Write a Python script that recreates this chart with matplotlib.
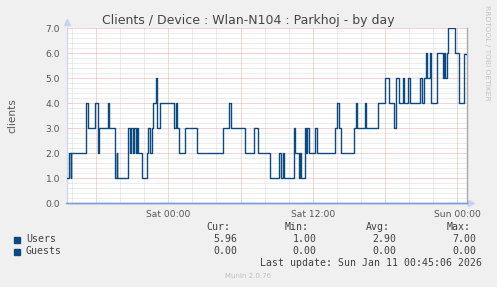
import numpy as np
import matplotlib
matplotlib.use("Agg")
import matplotlib.pyplot as plt
from matplotlib.patches import Rectangle
from matplotlib.ticker import MultipleLocator, FixedLocator

# hours relative to Sat 00:00, value holds from this time until the next one
change_hours = [-8.44, -8.25, -8.11, -8.06, -6.81, -6.67, -6.09, -5.88, -5.73, -5.01,
                -4.90, -4.39, -4.30, -4.24, -3.35, -3.18, -3.06, -2.96, -2.85, -2.72,
                -2.62, -2.52, -2.21, -1.81, -1.66, -1.52, -1.38, -1.25, -1.05, -0.91,
                -0.69, 0.50, 0.60, 0.70, 0.91, 1.35, 2.38, 4.57, 5.07, 5.17,
                6.37, 7.12, 7.45, 8.47, 9.22, 9.36, 9.50, 9.61, 10.42, 10.55,
                10.83, 10.96, 11.06, 11.33, 11.46, 11.54, 11.66, 12.21, 12.35, 13.82,
                14.04, 14.18, 14.37, 15.42, 15.61, 15.71, 16.34, 16.45, 17.42, 18.02,
                18.31, 18.79, 18.95, 19.20, 19.49, 19.60, 19.93, 20.07, 20.95, 21.07,
                21.24, 21.38, 21.49, 21.71, 21.82, 22.34, 22.82, 22.92, 23.01, 23.12,
                23.26, 23.81, 24.12, 24.56, 24.78]
users = [1, 2, 1, 2, 4, 3, 4, 2, 3, 4,
         3, 1, 2, 1, 3, 2, 3, 2, 3, 2,
         3, 2, 1, 2, 3, 2, 3, 4, 5, 3,
         4, 3, 4, 3, 2, 3, 2, 3, 4, 3,
         2, 3, 2, 1, 2, 1, 2, 1, 3, 2,
         1, 2, 1, 3, 2, 3, 2, 3, 2, 3,
         4, 3, 2, 3, 4, 3, 4, 3, 4, 5,
         4, 3, 5, 4, 5, 4, 5, 4, 5, 4,
         5, 6, 5, 6, 4, 6, 5, 6, 5, 6,
         7, 6, 4, 5.96, 5.96]
guests = [0.0] * len(change_hours)

x_major = [-6, 0, 6, 12, 18, 24]
x_labels = ["", "Sat 00:00", "", "Sat 12:00", "", "Sun 00:00"]

series_names = ["Users", "Guests"]
stat_cur = ["5.96", "0.00"]
stat_min = ["1.00", "0.00"]
stat_avg = ["2.90", "0.00"]
stat_max = ["7.00", "0.00"]

W, H = 497, 287
line_col = "#0b4a80"
bg = "#f0f0f0"

fig = plt.figure(figsize=(W / 100, H / 100), dpi=100, facecolor=bg)
ax = fig.add_axes([66.5 / W, 1 - 203.3 / H, 400 / W, 175 / H])
ax.set_facecolor("white")

ax.set_xlim(-8.46, 24.78)
ax.set_ylim(0, 7)

dot = (0, (1, 1))
ax.xaxis.set_minor_locator(MultipleLocator(2))
ax.xaxis.set_major_locator(FixedLocator(x_major))
ax.set_xticklabels(x_labels)
ax.yaxis.set_minor_locator(MultipleLocator(0.2))
ax.set_yticks(np.arange(0, 8), [f"{v:.1f}" for v in range(8)])
ax.grid(which="minor", color="#dadada", lw=0.72, ls=dot)
ax.grid(which="major", color="#eeaaaa", lw=0.72, ls=dot)
ax.set_axisbelow(True)

ax.tick_params(which="both", length=0)
ax.tick_params(axis="x", pad=4.5, labelsize=6.6, labelcolor="#555555")
ax.tick_params(axis="y", pad=4.5, labelsize=6.6, labelcolor="#555555")

ax.plot(change_hours, users, drawstyle="steps-post", color=line_col, lw=1.0, zorder=3)
ax.plot(change_hours, guests, drawstyle="steps-post", color="#7f9ad6", lw=1.0, zorder=3,
        clip_on=False)

ax.spines["top"].set_visible(False)
ax.spines["left"].set_color("#d0d8f6")
ax.spines["left"].set_linewidth(1.0)
ax.spines["bottom"].set_color("#7f9ad6")
ax.spines["bottom"].set_linewidth(1.0)
ax.spines["right"].set_color("#a8a8a8")
ax.spines["right"].set_linewidth(1.0)

# axis arrows
ax.plot([0], [1.035], marker="^", ms=4, color="#c8d0f4", transform=ax.transAxes, clip_on=False)
ax.plot([1.01], [0], marker=">", ms=4, color="#c8d0f4", transform=ax.transAxes, clip_on=False)


def px(x, y):
    return x / W, 1 - y / H


fig.text(*px(248.5, 24), "Clients / Device : Wlan-N104 : Parkhoj - by day",
         ha="center", va="baseline", fontsize=9.0, color="#444444")
fig.text(*px(12, 115.5), "clients", rotation=90, ha="center", va="center",
         fontsize=7.6, color="#555555")
fig.text(*px(487.5, 5), "RRDTOOL / TOBI OETIKER", rotation=-90, ha="center", va="top",
         fontsize=5.4, color="#c4c4c4")

mono = dict(family="DejaVu Sans Mono", fontsize=7.1, color="#404040", va="baseline")
headers = ["Cur:", "Min:", "Avg:", "Max:"]
head_x = [230.5, 308.5, 389.5, 470.3]
val_x = [237.3, 316.7, 396.7, 476.7]
for hx, h in zip(head_x, headers):
    fig.text(*px(hx, 230.5), h, ha="right", **mono)

row_y = [242.5, 254.5]
cols = [stat_cur, stat_min, stat_avg, stat_max]
for i, name in enumerate(series_names):
    fig.patches.append(Rectangle(px(14, row_y[i]), 6 / W, 6 / H, transform=fig.transFigure,
                                 color=line_col, zorder=5))
    fig.text(*px(26, row_y[i]), name, ha="left", **mono)
    for vx, col in zip(val_x, cols):
        fig.text(*px(vx, row_y[i]), col[i], ha="right", **mono)

fig.text(*px(482.3, 266.5), "Last update: Sun Jan 11 00:45:06 2026", ha="right", **mono)
fig.text(*px(248, 278.5), "Munin 2.0.76", ha="center", va="baseline", fontsize=5.0,
         color="#c0c0c0")

fig.savefig("out.png", dpi=100, facecolor=bg)
